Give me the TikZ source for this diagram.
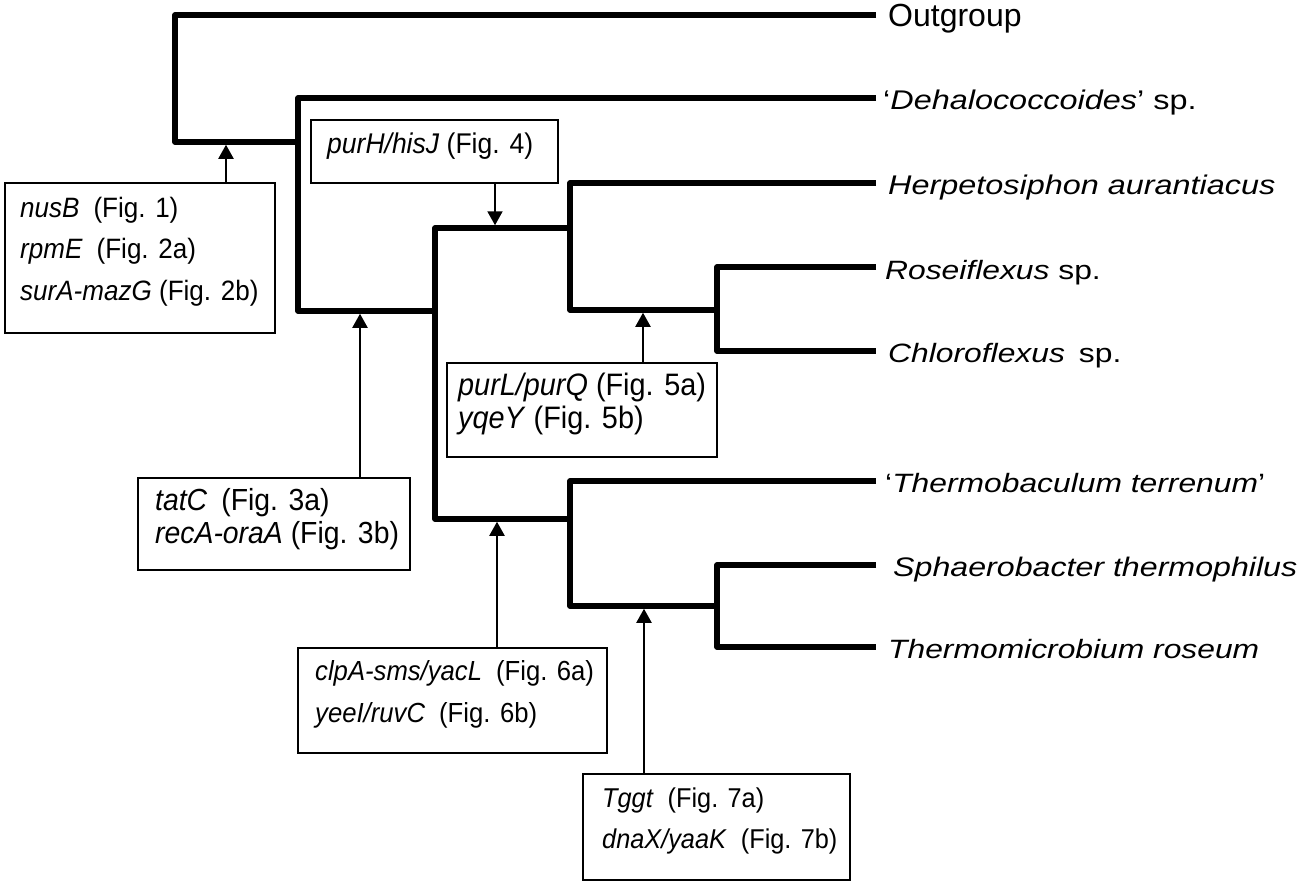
\documentclass[tikz,border=0pt]{standalone}
\usepackage{fontspec}
\setmainfont{Liberation Sans}
\newfontfamily\spf[FakeStretch=1.2]{Liberation Sans}
\newfontfamily\gbf[FakeStretch=0.93]{Liberation Sans}
\usetikzlibrary{arrows.meta}
\begin{document}
\begin{tikzpicture}[x=1pt,y=-1pt,
  tree/.style={line width=5.5pt,line join=round},
  gbox/.style={draw,line width=2.5pt,inner sep=0pt},
  gar/.style={line width=2pt,-{Triangle[width=15pt,length=14pt]},shorten >=2.75pt},
  splab/.style={anchor=base west,inner sep=0pt,font=\spf\fontsize{#1}{30}\selectfont},
  splab/.default=26.5,
  gt/.style={anchor=base west,inner sep=0pt,font=\gbf\fontsize{#1}{30}\selectfont},
  gt/.default=28]
\useasboundingbox (0,0) rectangle (1302,884);
% tree coordinates
\coordinate (eOut) at (876,15);
\coordinate (A) at (175,142);
\coordinate (B) at (298,142);
\coordinate (eDeh) at (876,98);
\coordinate (C) at (298,311);
\coordinate (D) at (435,311);
\coordinate (E1) at (435,228);
\coordinate (E2) at (435,519);
\coordinate (F) at (570,228);
\coordinate (G) at (570,519);
\coordinate (eHer) at (876,183);
\coordinate (H) at (570,310);
\coordinate (I) at (717,310);
\coordinate (eRos) at (876,267);
\coordinate (J) at (717,351);
\coordinate (eChl) at (876,351);
\coordinate (eThb) at (876,481);
\coordinate (K) at (570,606);
\coordinate (L) at (717,606);
\coordinate (eSph) at (876,565);
\coordinate (M) at (717,647);
\coordinate (eThm) at (876,647);
% arrow targets
\coordinate (t1) at (226,142);
\coordinate (t2) at (495,228);
\coordinate (t3) at (360,311);
\coordinate (t4) at (643,310);
\coordinate (t5) at (497,519);
\coordinate (t6) at (644,606);
% tree
\draw[tree] (eOut) -| (A) -- (B);
\draw[tree] (eDeh) -| (C) -- (D);
\draw[tree] (F) -- (E1) -- (E2) -- (G);
\draw[tree] (eHer) -| (H) -- (I);
\draw[tree] (eRos) -| (J) -- (eChl);
\draw[tree] (eThb) -| (K) -- (L);
\draw[tree] (eSph) -| (M) -- (eThm);
% leaf labels
\node[anchor=base west,inner sep=0pt,font=\fontsize{32}{36}\selectfont] (lOut) at (888,26) {Outgroup};
\node[splab=27] (lDeh) at (883,109) {‘\textit{Dehalococcoides}’ sp.};
\node[splab=27] (lHer) at (888,194) {\textit{Herpetosiphon aurantiacus}};
\node[splab] (lRos) at (885,279) {\textit{Roseiflexus} sp.};
\node[splab] (lChl) at (888,362) {\textit{Chloroflexus}\hspace{14pt}sp.};
\node[splab] (lThb) at (885,492) {‘\textit{Thermobaculum terrenum}’};
\node[splab=26.8] (lSph) at (893,576) {\textit{Sphaerobacter thermophilus}};
\node[splab] (lThm) at (888,658) {\textit{Thermomicrobium roseum}};
% boxes
\node[gbox,minimum width=270pt,minimum height=150pt] (b1) at (140,258) {};
\node[gbox,minimum width=247pt,minimum height=63pt] (b2) at (434.5,151.5) {};
\node[gbox,minimum width=270pt,minimum height=94pt] (b3) at (582,410) {};
\node[gbox,minimum width=272pt,minimum height=92pt] (b4) at (274,524) {};
\node[gbox,minimum width=309pt,minimum height=105pt] (b5) at (452.5,700.5) {};
\node[gbox,minimum width=267pt,minimum height=106pt] (b6) at (716.5,827) {};
% box texts
\node[gt=28] (g1a) at (20,217) {\textit{nusB}\hspace{14pt}(Fig. 1)};
\node[gt=28] (g1b) at (20,258) {\textit{rpmE}\hspace{14pt}(Fig. 2a)};
\node[gt=28] (g1c) at (20,300) {\textit{surA-mazG} (Fig. 2b)};
\node[gt=28.5] (g2a) at (327,153) {\textit{purH/hisJ} (Fig. 4)};
\node[gt=31] (g3a) at (458,395) {\textit{purL/purQ} (Fig. 5a)};
\node[gt=31] (g3b) at (458,428) {\textit{yqeY} (Fig. 5b)};
\node[gt=30.5] (g4a) at (155,510) {\textit{tatC}\hspace{14pt}(Fig. 3a)};
\node[gt=30.5] (g4b) at (155,543) {\textit{recA-oraA} (Fig. 3b)};
\node[gt=27.6] (g5a) at (315,680) {\textit{clpA-sms/yacL}\hspace{14pt}(Fig. 6a)};
\node[gt=27.6] (g5b) at (315,722) {\textit{yeeI/ruvC}\hspace{14pt}(Fig. 6b)};
\node[gt=27.2] (g6a) at (602,807) {\textit{Tggt}\hspace{14pt}(Fig. 7a)};
\node[gt=27.2] (g6b) at (602,848) {\textit{dnaX/yaaK}\hspace{14pt}(Fig. 7b)};
% arrows
\draw[gar] (b1.north -| t1) -- (t1);
\draw[gar] (b2.south -| t2) -- (t2);
\draw[gar] (b4.north -| t3) -- (t3);
\draw[gar] (b3.north -| t4) -- (t4);
\draw[gar] (b5.north -| t5) -- (t5);
\draw[gar] (b6.north -| t6) -- (t6);
\end{tikzpicture}
\end{document}
